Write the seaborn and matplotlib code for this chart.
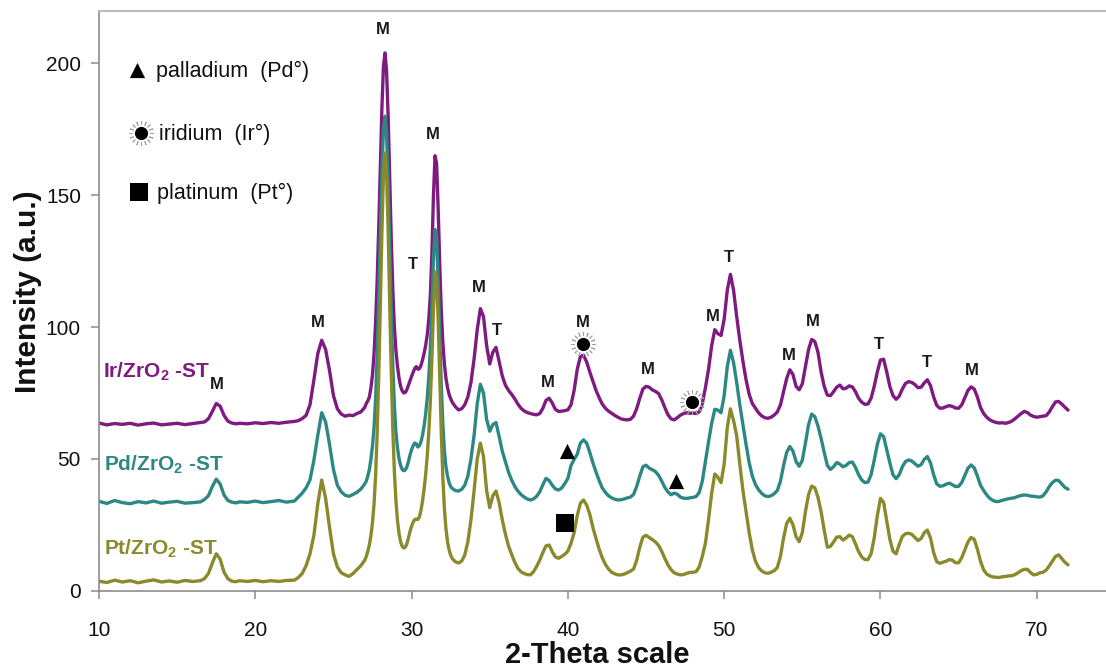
import numpy as np
import pandas as pd
import matplotlib
matplotlib.use("Agg")
import matplotlib.pyplot as plt
import seaborn as sns

# 2-theta sampling grid (degrees): coarse on flat baseline, fine on the sharp peaks
two_theta = np.round(np.concatenate([
    np.arange(10.0, 16.51, 0.5),
    np.arange(16.75, 19.01, 0.25),
    np.arange(19.5, 22.51, 0.5),
    np.arange(22.75, 27.01, 0.25),
    np.arange(27.1, 32.51, 0.1),
    np.arange(32.6, 72.01, 0.2),
]), 2)

# Ir/ZrO2-ST diffractogram (offset trace)
ir_counts = [
    # 10.0 - 16.5
    63.6, 62.9, 63.4, 63.1, 63.5, 62.8, 63.3, 63.6, 62.9, 63.2, 63.5, 63.0, 63.4, 63.8,
    # 16.75 - 19.0
    64.0, 65.2, 68.0, 71.0, 70.0, 66.5, 64.3, 63.6, 63.3, 63.5,
    # 19.5 - 22.5
    63.3, 63.7, 63.4, 63.8, 63.5, 63.9, 64.2,
    # 22.75 - 27.0
    64.5, 65.3, 66.5, 70.5, 80.0, 90.0, 95.0, 91.5, 83.5, 74.0, 69.0, 67.0, 66.2, 66.6, 66.4, 67.2, 67.8, 69.5,
    # 27.1 - 32.5
    71.0, 72.0, 73.5, 77.0, 82.0, 90.0, 102, 118, 138,
    160, 183, 199, 204, 197, 180, 157, 133, 114, 100,
    91, 85, 80.5, 77.5, 75.8, 75.0, 75.2, 76.3, 78.0, 79.8,
    81.3, 82.8, 84.3, 85.0, 84.0, 84.2, 85.5, 87.5, 90.0, 93.0,
    97, 103, 112, 128, 150, 165, 162, 145, 124, 106,
    94, 86, 80.5, 77.0, 74.5, 72.8,
    # 32.6 - 72.0
    71.5, 69.8,
    68.6, 69.0, 70.5, 73.5, 79.0,
    88.0, 99.0, 107.0, 104.0, 93.0,
    86.0, 90.5, 92.3, 87.0, 81.5,
    78.0, 76.0, 74.5, 72.8, 70.8,
    69.2, 68.2, 67.6, 67.2, 66.9,
    66.7, 67.2, 69.2, 72.2, 73.0,
    71.2, 68.8, 68.0, 68.1, 68.3,
    68.6, 70.5, 76.0, 84.0, 88.8,
    89.3, 86.8, 83.0, 79.5, 76.0,
    73.2, 70.8, 69.2, 68.1, 67.3,
    66.5, 65.8, 65.2, 64.9, 64.8,
    65.0, 66.2, 69.0, 73.0, 76.5,
    77.5, 77.2, 76.2, 75.6, 74.8,
    72.5, 69.5, 66.8, 65.2, 64.8,
    65.6, 66.6, 67.2, 67.5, 67.3,
    67.4, 67.2, 67.8, 71.0, 77.0,
    84.0, 93.0, 99.0, 97.5, 96.8,
    103.0, 114.0, 120.0, 114.0, 104.0,
    95.0, 87.0, 80.0, 74.5, 71.0,
    69.2, 67.5, 66.3, 65.6, 65.4,
    65.8, 66.6, 67.8, 70.5, 75.5,
    80.5, 83.8, 82.0, 77.5, 76.2,
    78.5, 85.0, 91.5, 95.3, 94.5,
    90.5, 83.0, 77.5, 74.2, 74.0,
    75.5, 77.2, 78.0, 76.6, 76.8,
    77.7, 77.3, 75.5, 73.0, 71.5,
    70.7, 70.8, 73.0, 77.5, 83.0,
    87.5, 87.8, 83.0, 77.5, 74.0,
    72.6, 73.8, 76.5, 78.6, 79.3,
    79.0, 78.2, 77.0, 77.2, 78.8,
    80.0, 77.8, 73.5, 70.3, 69.2,
    69.3, 69.8, 70.2, 69.9, 69.3,
    69.2, 70.5, 73.2, 76.0, 77.3,
    76.5, 73.5, 69.5, 67.2, 65.8,
    64.8, 64.2, 63.8, 63.6, 63.7,
    63.5, 63.8, 64.3, 65.2, 66.2,
    67.2, 68.0, 67.6, 66.6, 66.1,
    65.8, 66.0, 66.2, 66.4, 67.8,
    69.8, 71.6, 71.8, 70.8, 69.6,
    68.5,
]

# Pd/ZrO2-ST diffractogram (offset trace)
pd_counts = [
    # 10.0 - 16.5
    33.9, 33.1, 34.2, 33.4, 33.0, 33.8, 33.3, 34.0, 33.2, 33.6, 33.9, 33.2, 33.4, 33.7,
    # 16.75 - 19.0
    34.6, 36.0, 39.5, 42.3, 40.5, 36.3, 34.2, 33.6, 33.3, 33.7,
    # 19.5 - 22.5
    33.5, 34.0, 33.4, 33.8, 34.2, 33.6, 34.0,
    # 22.75 - 27.0
    35.5, 37.0, 39.0, 42.0, 49.5, 59.0, 67.5, 64.0, 55.5, 46.0, 40.0, 37.5, 36.2, 35.8, 36.5, 37.3, 38.5, 40.5,
    # 27.1 - 32.5
    41.5, 43.5, 46.0, 50.0, 55.0, 62.0, 73.0, 90.0, 112,
    136, 159, 175, 180, 173, 155, 130, 105, 85, 70,
    60, 54, 50, 47.5, 46.0, 45.5, 45.8, 47.0, 49.0, 51.5,
    53.5, 55.0, 56.0, 55.7, 54.5, 55.0, 56.5, 59.0, 62.5, 67.0,
    73, 81, 92, 108, 126, 137, 134, 118, 97, 78,
    63, 53, 47, 43.5, 41.0, 39.5,
    # 32.6 - 72.0
    38.8, 38.0,
    37.8, 38.4, 40.0, 43.5, 50.0,
    59.0, 71.0, 78.3, 75.0, 65.0,
    60.5, 63.0, 63.8, 58.5, 53.0,
    49.0, 45.0, 42.0, 39.6, 37.8,
    36.5, 35.5, 34.8, 34.4, 34.8,
    35.8, 37.5, 40.2, 42.6, 41.8,
    40.0, 38.6, 38.2, 38.9, 40.6,
    42.6, 47.5, 49.8, 51.8, 56.0,
    57.2, 56.0, 52.5, 48.5, 45.0,
    41.8, 39.0, 37.3, 36.0, 35.2,
    34.7, 34.4, 34.5, 34.8, 35.2,
    35.5, 36.5, 39.5, 43.5, 47.0,
    47.6, 46.5, 45.9, 45.2, 43.8,
    41.6, 39.2, 37.5, 36.4, 37.0,
    36.6, 35.5, 35.1, 35.0, 35.2,
    35.4, 35.7, 37.2, 41.5, 49.0,
    56.5, 63.5, 68.8, 68.5, 67.5,
    74.0, 85.0, 91.2, 86.5, 79.0,
    70.5, 63.0, 55.5, 48.5, 43.5,
    40.3, 38.3, 36.9, 36.0, 35.7,
    36.0, 36.8, 38.0, 41.5, 47.5,
    52.5, 54.7, 53.0, 49.0, 47.2,
    49.5, 56.0, 63.0, 67.0, 66.0,
    62.5, 57.8, 52.5, 47.5, 46.0,
    47.0, 48.6, 48.0, 47.0, 47.5,
    48.6, 48.8, 46.8, 44.0, 42.0,
    41.0, 41.2, 44.0, 49.5, 55.5,
    59.5, 58.5, 53.5, 48.5, 44.0,
    42.5, 44.0, 47.0, 49.0, 49.6,
    49.2, 48.2, 47.2, 47.8, 49.8,
    50.9, 48.5, 44.0, 40.5, 39.6,
    39.8, 40.4, 40.8, 40.2, 39.5,
    39.6, 41.0, 43.8, 46.5, 47.7,
    46.6, 43.5, 40.0, 38.0, 36.3,
    35.0, 34.2, 33.8, 33.9, 34.3,
    34.6, 34.9, 35.1, 35.3, 35.8,
    36.1, 36.3, 36.2, 35.9, 35.8,
    35.6, 35.5, 36.0, 37.5, 39.5,
    41.0, 41.9, 41.8, 40.5, 39.2,
    38.5,
]

# Pt/ZrO2-ST diffractogram
pt_counts = [
    # 10.0 - 16.5
    3.6, 3.1, 4.0, 3.3, 3.8, 3.0, 3.6, 4.1, 3.3, 3.7, 3.2, 3.9, 3.5, 3.8,
    # 16.75 - 19.0
    4.6, 6.5, 10.5, 14.0, 12.0, 7.0, 4.5, 3.6, 3.4, 3.8,
    # 19.5 - 22.5
    3.5, 3.9, 3.4, 3.8, 3.5, 3.9, 4.0,
    # 22.75 - 27.0
    5.0, 6.5, 9.5, 14.0, 21.0, 33.0, 42.0, 35.0, 24.0, 14.0, 9.0, 6.8, 6.0, 5.4, 6.5, 8.0, 9.5, 11.5,
    # 27.1 - 32.5
    13.0, 15.0, 17.5, 21.0, 26.0, 33.0, 44.0, 60.0, 82.0,
    108, 136, 158, 166, 158, 137, 109, 83, 61, 45,
    34, 26.5, 21.5, 18.5, 16.8, 16.2, 16.5, 17.8, 20.0, 22.5,
    24.5, 26.0, 27.0, 27.2, 27.0, 28.0, 30.5, 34.0, 38.5, 44.0,
    51, 60, 72, 88, 107, 121, 119, 103, 81, 60,
    43, 31, 23.5, 18.5, 15.5, 13.5,
    # 32.6 - 72.0
    12.2, 11.0,
    10.5, 11.2, 13.5, 18.5, 27.0,
    38.0, 50.0, 56.0, 51.0, 38.0,
    31.5, 36.0, 37.8, 33.5, 27.0,
    21.5, 17.0, 13.8, 10.8, 8.5,
    7.2, 6.5, 6.1, 6.0, 7.2,
    9.2, 11.6, 14.5, 17.0, 17.3,
    14.8, 12.8, 12.3, 13.0, 13.8,
    15.0, 18.0, 22.0, 28.5, 33.2,
    34.4, 32.5, 29.0, 24.0, 19.8,
    15.8, 12.5, 10.0, 8.2, 7.0,
    6.4, 6.0, 6.0, 6.3, 6.8,
    7.4, 8.2, 11.5, 16.5, 20.3,
    21.0, 20.2, 19.4, 18.5, 17.2,
    15.0, 12.3, 9.8, 8.0, 6.8,
    6.3, 6.0, 6.1, 6.6, 6.9,
    7.0, 7.2, 9.0, 13.0, 18.0,
    27.0, 37.0, 44.3, 43.0, 41.0,
    48.0, 62.0, 69.0, 64.5, 58.8,
    48.0, 38.0, 30.0, 22.0, 15.5,
    11.2, 8.8, 7.5, 6.8, 6.6,
    7.0, 7.6, 8.8, 13.0, 20.0,
    25.5, 27.5, 25.0, 20.5, 18.6,
    22.0, 30.0, 36.5, 39.7, 39.0,
    35.5, 30.0, 23.0, 16.5, 16.8,
    18.5, 20.3, 20.5, 19.2, 20.0,
    21.1, 20.5, 17.8, 14.8, 12.8,
    11.8, 11.8, 14.0, 20.0, 28.5,
    35.0, 33.5, 26.5, 19.5, 15.0,
    14.0, 17.5, 20.6, 21.6, 21.8,
    21.4, 20.2, 19.0, 19.8, 22.0,
    23.0, 20.0, 14.5, 11.0, 10.4,
    10.8, 11.2, 11.8, 11.6, 10.6,
    10.6, 12.5, 15.5, 18.5, 20.2,
    19.5, 15.8, 11.2, 7.9, 6.3,
    5.6, 5.2, 5.1, 5.0, 5.3,
    5.4, 5.6, 5.7, 6.1, 6.8,
    7.6, 8.1, 8.1, 6.9, 6.0,
    6.2, 6.8, 7.0, 7.8, 9.4,
    11.2, 13.0, 13.6, 12.2, 10.8,
    9.8,
]

for name, arr in (("ir", ir_counts), ("pd", pd_counts), ("pt", pt_counts)):
    if len(arr) != len(two_theta):
        raise ValueError(f"{name}: {len(arr)} values for {len(two_theta)} angles")

samples = ["Ir/ZrO2 -ST", "Pd/ZrO2 -ST", "Pt/ZrO2 -ST"]
sample_colors = ["#7F1A80", "#2D8884", "#8A8A2C"]
sample_labels = [r"Ir/ZrO$_\mathbf{2}$ -ST", r"Pd/ZrO$_\mathbf{2}$ -ST", r"Pt/ZrO$_\mathbf{2}$ -ST"]
sample_label_x = [10.28, 10.32, 10.32]
sample_label_y = [83.0, 47.7, 15.8]

# Phase assignments: M = monoclinic, T = tetragonal ZrO2
phase_text = ["M", "M", "M", "T", "M", "M", "T", "M", "M", "M", "M", "T", "M", "M", "T", "T", "M"]
phase_x = [17.55, 24.0, 28.17, 30.09, 31.37, 34.31, 35.44, 38.74, 40.98, 45.1, 49.3, 50.33,
           54.15, 55.64, 59.92, 62.95, 65.87]
phase_y = [78.3, 101.6, 212.9, 123.6, 173.0, 114.9, 98.8, 78.8, 101.7, 83.8, 104.0, 126.4,
           89.1, 102.1, 93.3, 86.6, 83.5]

# Metal reflections
pd_marks_x = [39.94, 46.92]
pd_marks_y = [53.0, 41.6]
ir_marks_x = [40.97, 47.94]
ir_marks_y = [93.7, 71.6]
pt_marks_x = [39.81]
pt_marks_y = [25.7]

key_text = ["palladium  (Pd°)", "iridium  (Ir°)", "platinum  (Pt°)"]
key_x = [12.45, 12.68, 12.55]
key_y = [197.6, 173.8, 151.3]
key_text_x = [13.62, 13.82, 13.7]

df = pd.DataFrame({
    "two_theta": np.tile(two_theta, 3),
    "intensity": np.concatenate([ir_counts, pd_counts, pt_counts]),
    "sample": np.repeat(samples, len(two_theta)),
})

sns.set_theme(style="white")
plt.rcParams["font.family"] = ["Liberation Sans", "DejaVu Sans"]
plt.rcParams["mathtext.fontset"] = "custom"
plt.rcParams["mathtext.rm"] = "Liberation Sans"
plt.rcParams["mathtext.bf"] = "Liberation Sans:bold"

fig = plt.figure(figsize=(11.06, 6.70), dpi=100)
ax = fig.add_axes([99 / 1106, 79.3 / 670, 1007 / 1106, 580 / 670])

sns.lineplot(data=df, x="two_theta", y="intensity", hue="sample",
             palette=dict(zip(samples, sample_colors)), hue_order=samples,
             linewidth=2.4, legend=False, ax=ax, sort=False, estimator=None)

ax.set_xlim(10, 74.43)
ax.set_ylim(0, 220)
ax.set_xticks([10, 20, 30, 40, 50, 60, 70])
ax.set_yticks([0, 50, 100, 150, 200])
ax.tick_params(axis="both", which="major", direction="out", length=6, width=1.1,
               color="#8C8C8C", labelsize=15, labelcolor="#111111")
ax.tick_params(axis="x", pad=16)
ax.tick_params(axis="y", pad=7)
ax.tick_params(left=True, bottom=True)

for side in ("left", "bottom"):
    ax.spines[side].set_color("#8C8C8C")
    ax.spines[side].set_linewidth(1.2)
ax.spines["top"].set_color("#BDBDBD")
ax.spines["top"].set_linewidth(1.6)
ax.spines["right"].set_visible(False)

ax.set_xlabel("2-Theta scale", fontsize=21, fontweight="bold", color="#111111")
ax.set_ylabel("Intensity (a.u.)", fontsize=21.5, fontweight="bold", color="#111111")
ax.xaxis.set_label_coords(0.4945, -0.087)
ax.yaxis.set_label_coords(-0.057, 0.515)

for lbl, lx, ly, col in zip(sample_labels, sample_label_x, sample_label_y, sample_colors):
    ax.text(lx, ly, lbl, color=col, fontsize=15, fontweight="bold", ha="left", va="center")

for t, px, py in zip(phase_text, phase_x, phase_y):
    ax.text(px, py, t, fontsize=12, fontweight="bold", color="#1A1A1A", ha="center", va="center")


def draw_ir(xs, ys):
    ax.scatter(xs, ys, marker=(16, 2, 0), s=300, color="#A0A0A0", linewidths=0.7, zorder=5)
    ax.scatter(xs, ys, marker="o", s=150, color="white", linewidths=0, zorder=6)
    ax.scatter(xs, ys, marker="o", s=90, color="black", linewidths=0, zorder=7)


ax.scatter(pd_marks_x, pd_marks_y, marker="^", s=120, color="black", linewidths=0, zorder=5)
ax.scatter(pt_marks_x, pt_marks_y, marker="s", s=170, color="black", linewidths=0, zorder=5)
draw_ir(ir_marks_x, ir_marks_y)

# key
ax.scatter([key_x[0]], [key_y[0]], marker="^", s=120, color="black", linewidths=0, zorder=5)
draw_ir([key_x[1]], [key_y[1]])
ax.scatter([key_x[2]], [key_y[2]], marker="s", s=150, color="black", linewidths=0, zorder=5)
for t, tx, ky in zip(key_text, key_text_x, key_y):
    ax.text(tx, ky - 0.6, t, fontsize=15.5, color="#111111", ha="left", va="center")

fig.savefig("out.png", dpi=100)
